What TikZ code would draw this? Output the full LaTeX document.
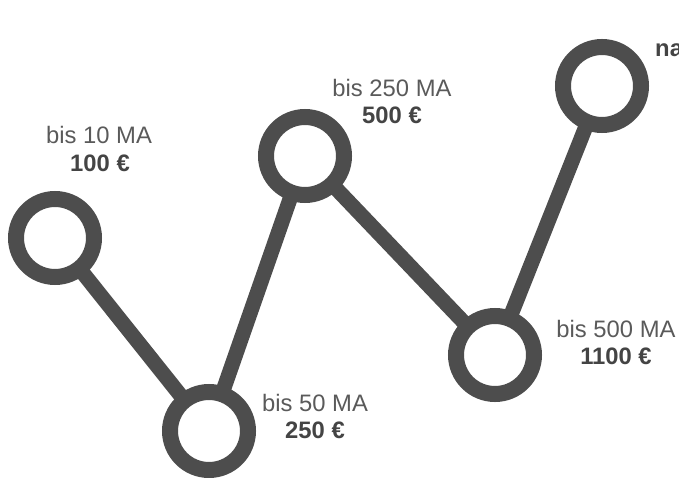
\documentclass[tikz,border=0pt]{standalone}
\usepackage{fontspec}
\setmainfont{Liberation Sans}
\definecolor{ringgray}{HTML}{4D4D4D}
\definecolor{textgray}{HTML}{5A5A5A}
\definecolor{boldgray}{HTML}{444444}
\begin{document}
\begin{tikzpicture}[x=1pt,y=-1pt,
  ring/.style={circle, draw=ringgray, line width=16pt, fill=white, minimum size=78pt, inner sep=0pt, outer sep=0pt},
  link/.style={draw=ringgray, line width=15pt},
  lbl/.style={font=\fontsize{23.8}{28}\selectfont, text=textgray, anchor=base, inner sep=0pt},
  price/.style={font=\fontsize{23.8}{28}\selectfont\bfseries, text=boldgray, anchor=base, inner sep=0pt}]
\useasboundingbox (0,0) rectangle (679,478);
% connectors first (below the rings)
\coordinate (k1) at (55,238);
\coordinate (k2) at (209,431);
\coordinate (k3) at (305,156);
\coordinate (k4) at (495,355);
\coordinate (k5) at (602,86);
\draw[link] (k1) -- (k2) -- (k3) -- (k4) -- (k5);
\node[ring] (c1) at (k1) {};
\node[ring] (c2) at (k2) {};
\node[ring] (c3) at (k3) {};
\node[ring] (c4) at (k4) {};
\node[ring] (c5) at (k5) {};
% labels
\node[lbl] (t1) at (99,144) {bis 10 MA};
\node[price] (p1) at (100,172) {100 €};
\node[lbl] (t2) at (315,411) {bis 50 MA};
\node[price] (p2) at (315,438) {250 €};
\node[lbl] (t3) at (392,97) {bis 250 MA};
\node[price] (p3) at (392,124) {500 €};
\node[lbl] (t4) at (616,337) {bis 500 MA};
\node[price] (p4) at (616,364) {1100 €};
\node[price, anchor=base west] (t5) at (655,57) {na};
\end{tikzpicture}
\end{document}
